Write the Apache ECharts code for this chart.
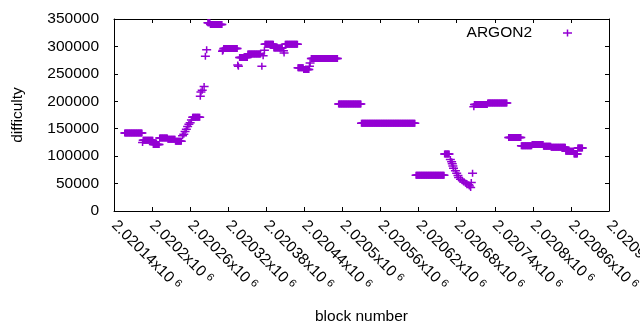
<!DOCTYPE html>
<html>
<head>
<meta charset="utf-8">
<script src="https://cdn.jsdelivr.net/npm/echarts@6/dist/echarts.min.js"></script>
<style>
  html, body { margin: 0; padding: 0; background: #fff; }
  #chart { width: 640px; height: 330px; }
</style>
</head>
<body>
<div id="chart"></div>
<script>
// difficulty per block
// flat stretches: first block, last block, difficulty
const runStart = [2020157, 2020186, 2020202, 2020212, 2020225, 2020237, 2020264, 2020288, 2020292, 2020313,
  2020338, 2020351, 2020378, 2020392, 2020410, 2020430, 2020439, 2020451, 2020494, 2020530,
  2020616, 2020661, 2020708, 2020729, 2020762, 2020782, 2020799, 2020817, 2020829, 2020852,
  2020865, 2020871];
const runEnd = [2020184, 2020201, 2020211, 2020224, 2020236, 2020246, 2020275, 2020291, 2020310, 2020334,
  2020350, 2020371, 2020391, 2020405, 2020429, 2020438, 2020447, 2020492, 2020529, 2020614,
  2020660, 2020668, 2020728, 2020759, 2020781, 2020798, 2020816, 2020828, 2020851, 2020864,
  2020870, 2020878];
const runDifficulty = [142000, 129000, 121000, 133000, 131000, 127000, 171000, 343000, 340000, 296000,
  280000, 286000, 304000, 297000, 304000, 261000, 258000, 278000, 195000, 160000,
  65000, 104000, 194000, 197000, 134000, 119000, 121000, 118000, 116000, 109000,
  104000, 115000];

// single blocks where the difficulty was moving
const stepBlock = [2020185, 2020248, 2020250, 2020252, 2020254, 2020256, 2020258, 2020260, 2020262,
  2020276, 2020277, 2020279, 2020282, 2020284, 2020286,
  2020311, 2020312, 2020335, 2020336, 2020373, 2020375, 2020377, 2020407, 2020408, 2020448, 2020449,
  2020670, 2020672, 2020673, 2020674, 2020675, 2020678, 2020680, 2020682, 2020683, 2020686,
  2020689, 2020691, 2020694, 2020696, 2020699, 2020700, 2020702, 2020703, 2020705, 2020707];
const stepDifficulty = [125000, 137000, 140000, 145000, 149000, 154000, 158000, 161000, 166000,
  209000, 217000, 220000, 227000, 282000, 294000,
  291000, 293000, 266000, 264000, 264000, 283000, 293000, 292000, 288000, 264000, 270000,
  94000, 90000, 86000, 82000, 78000, 73500, 69000, 64500, 61000, 58000,
  55000, 53000, 51000, 50000, 48000, 45500, 43000, 52000, 69000, 190000];

const xTickLabels = ['2.02014', '2.0202', '2.02026', '2.02032', '2.02038', '2.02044', '2.0205',
  '2.02056', '2.02062', '2.02068', '2.02074', '2.0208', '2.02086', '2.02092'];
const yTickLabels = ['0', '50000', '100000', '150000', '200000', '250000', '300000', '350000'];
const xMin = 2020140;
const xStep = 60;
const yStep = 50000;

const points = [];
runStart.forEach((s, i) => {
  for (let b = s; b <= runEnd[i]; b++) points.push([b, runDifficulty[i]]);
});
stepBlock.forEach((b, i) => points.push([b, stepDifficulty[i]]));
points.sort((a, b) => a[0] - b[0]);

const font = 'Liberation Sans';
const fs = 15.5;
const plus = 'path://M0,2.75h9v1.5h-9z M3.75,0h1.5v7h-1.5z';
const purple = '#9400d3';

const xMax = xMin + xStep * (xTickLabels.length - 1);
const yMax = yStep * (yTickLabels.length - 1);
const line = { show: true, onZero: false, lineStyle: { color: '#000', width: 1 } };
const tick = { show: true, inside: true, length: 4, lineStyle: { color: '#000' } };

const chart = echarts.init(document.getElementById('chart'));
chart.setOption({
  animation: false,
  backgroundColor: '#fff',
  textStyle: { fontFamily: font },
  grid: { left: 114, right: 31, top: 19, bottom: 119, containLabel: false, outerBoundsMode: 'none' },
  legend: {
    data: [{ name: 'ARGON2', icon: plus }],
    right: 68,
    top: 25,
    padding: 0,
    align: 'right',
    itemWidth: 9,
    itemHeight: 7,
    textStyle: { fontFamily: font, fontSize: fs, color: '#000', padding: [0, 26, 0, 0] }
  },
  xAxis: [
    {
      type: 'value', min: xMin, max: xMax, interval: xStep, position: 'bottom',
      axisLine: line, axisTick: tick, splitLine: { show: false },
      axisLabel: {
        rotate: -45, margin: 12, showMinLabel: true, showMaxLabel: true,
        formatter: (v) => '{a|' + xTickLabels[Math.round((v - xMin) / xStep)] + 'x10}{s|6}',
        rich: {
          a: { fontFamily: font, fontSize: fs, color: '#000' },
          s: { fontFamily: font, fontSize: 11, color: '#000', verticalAlign: 'top', padding: [0, 0, 0, 4] }
        }
      },
      name: 'block number', nameLocation: 'middle', nameGap: 98,
      nameTextStyle: { fontFamily: font, fontSize: fs, color: '#000' }
    },
    {
      type: 'value', min: xMin, max: xMax, interval: xStep, position: 'top',
      axisLine: line, axisTick: tick, axisLabel: { show: false }, splitLine: { show: false }
    }
  ],
  yAxis: [
    {
      type: 'value', min: 0, max: yMax, interval: yStep, position: 'left',
      axisLine: line, axisTick: tick, splitLine: { show: false },
      axisLabel: {
        margin: 15, fontFamily: font, fontSize: fs, color: '#000',
        formatter: (v) => yTickLabels[Math.round(v / yStep)]
      },
      name: 'difficulty', nameLocation: 'middle', nameGap: 88,
      nameTextStyle: { fontFamily: font, fontSize: fs, color: '#000' }
    },
    {
      type: 'value', min: 0, max: yMax, interval: yStep, position: 'right',
      axisLine: line, axisTick: tick, axisLabel: { show: false }, splitLine: { show: false }
    }
  ],
  series: [
    {
      name: 'ARGON2',
      type: 'scatter',
      xAxisIndex: 0,
      yAxisIndex: 0,
      symbol: plus,
      symbolSize: [9, 7],
      itemStyle: { color: purple, opacity: 1 },
      data: points
    }
  ]
});
</script>
</body>
</html>
